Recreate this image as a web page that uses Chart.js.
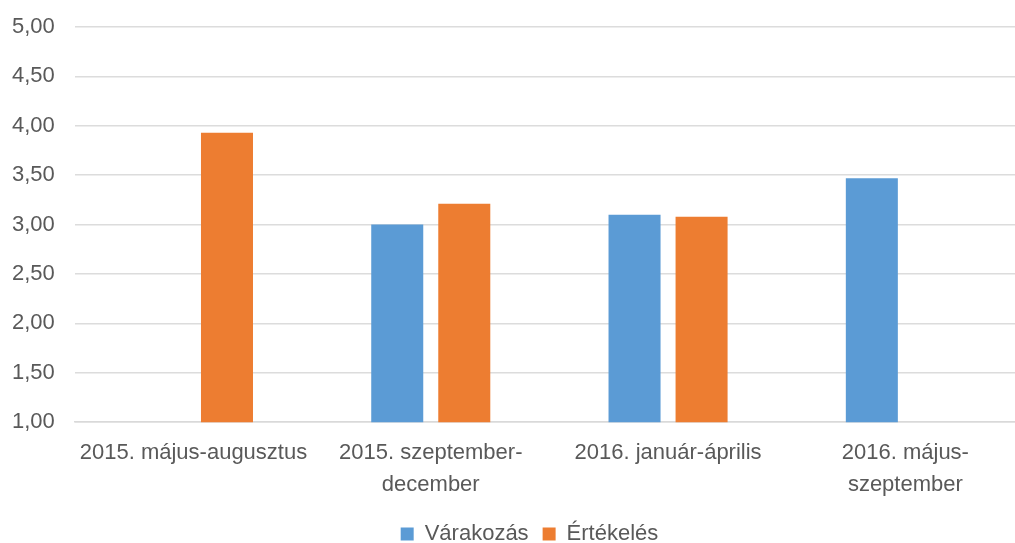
<!DOCTYPE html>
<html>
<head>
<meta charset="utf-8">
<script src="https://cdn.jsdelivr.net/npm/chart.js@4"></script>
<style>
  html, body { margin: 0; padding: 0; background: #fff; overflow: hidden; }
  #clip { width: 1015px; height: 543px; overflow: hidden; }
  #wrap { width: 1024px; height: 543px; }
</style>
</head>
<body>
<div id="clip"><div id="wrap"><canvas id="myChart"></canvas></div></div>
<script>
var labels = [
    "2015. május-augusztus",
    ["2015. szeptember-", "december"],
    "2016. január-április",
    ["2016. május-", "szeptember"]
];
var varakozas = [null, 3.00, 3.10, 3.47];
var ertekeles = [3.93, 3.21, 3.08, null];
var yTicks = [1, 1.5, 2, 2.5, 3, 3.5, 4, 4.5, 5];

window.onload = function () {
    var ctx = document.getElementById("myChart").getContext("2d");
    var chart = new Chart(ctx, {
        type: "bar",
        data: {
            labels: labels,
            datasets: [
                {
                    label: "Várakozás",
                    backgroundColor: "#5b9bd5",
                    data: varakozas,
                    categoryPercentage: 0.565,
                    barPercentage: 0.776
                },
                {
                    label: "Értékelés",
                    backgroundColor: "#ed7d31",
                    data: ertekeles,
                    categoryPercentage: 0.565,
                    barPercentage: 0.776
                }
            ]
        },
        // nudge the legend a bit to the right, like the original
        plugins: [{
            id: "legendShift",
            afterLayout: function (c) {
                if (c.legend) {
                    c.legend.left += 21;
                    c.legend.right += 21;
                }
            }
        }],
        options: {
            responsive: true,
            maintainAspectRatio: false,
            animation: false,
            layout: { padding: { top: 27, left: -7, right: 0, bottom: -12 } },
            plugins: {
                legend: {
                    position: "bottom",
                    labels: {
                        color: "#595959",
                        font: { family: "Liberation Sans", size: 22 },
                        boxWidth: 13,
                        boxHeight: 13,
                        padding: 14
                    }
                },
                tooltip: { enabled: false }
            },
            scales: {
                x: {
                    grid: { display: false },
                    border: { color: "#d9d9d9", width: 1.5 },
                    ticks: {
                        color: "#595959",
                        font: { family: "Liberation Sans", size: 22, lineHeight: 1.45 },
                        maxRotation: 0,
                        autoSkip: false,
                        padding: 7
                    },
                    afterFit: function (scale) { scale.height += 1; }
                },
                y: {
                    min: 1,
                    max: 5,
                    afterBuildTicks: function (axis) {
                        axis.ticks = yTicks.map(function (v) { return { value: v }; });
                    },
                    afterFit: function (scale) { scale.width += 19; },
                    grid: {
                        color: "#dcdcdc",
                        lineWidth: 1.5,
                        drawTicks: true,
                        tickLength: 20,
                        tickColor: "rgba(0,0,0,0)"
                    },
                    border: { display: false },
                    ticks: {
                        color: "#595959",
                        font: { family: "Liberation Sans", size: 22 },
                        padding: 0,
                        callback: function (v) { return v.toFixed(2).replace(".", ","); }
                    }
                }
            }
        }
    });
};
</script>
</body>
</html>
